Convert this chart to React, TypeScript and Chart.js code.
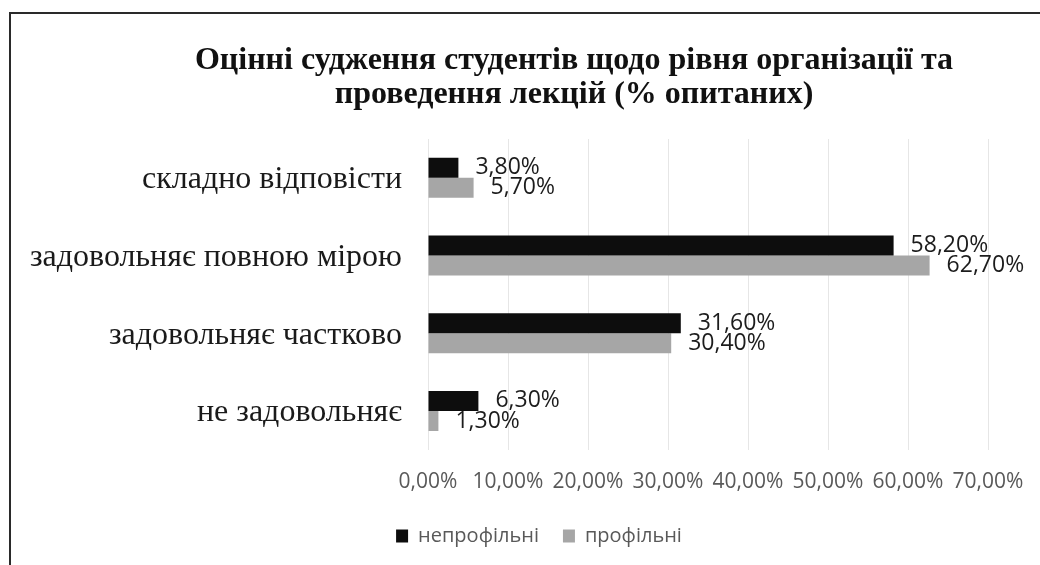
import React, { useEffect, useRef } from "react";
import { Chart, registerables } from "chart.js";

Chart.register(...registerables);

const categories = [
  "складно відповісти",
  "задовольняє повною мірою",
  "задовольняє частково",
  "не задовольняє",
];
const seriesNames = ["непрофільні", "профільні"];
const nonProfileValues = [3.8, 58.2, 31.6, 6.3];
const profileValues = [5.7, 62.7, 30.4, 1.3];
const titleLines = [
  "Оцінні судження студентів щодо рівня організації та",
  "проведення лекцій (% опитаних)",
];
const axisMin = 0;
const axisMax = 70;
const axisStep = 10;

const fmt = (v: number) => v.toFixed(2).replace(".", ",") + "%";

const titlePlugin = {
  id: "serifTitle",
  afterDraw(chart: any) {
    const ctx = chart.ctx;
    ctx.save();
    ctx.font = 'bold 32px "Liberation Serif"';
    ctx.fillStyle = "#111111";
    ctx.textAlign = "center";
    ctx.textBaseline = "alphabetic";
    ctx.fillText(titleLines[0], 574, 69);
    ctx.fillText(titleLines[1], 574, 103);
    ctx.restore();
  },
};

const legendShiftPlugin = {
  id: "legendShift",
  afterLayout(chart: any) {
    const lg = chart.legend;
    if (!lg) return;
    lg.left += 40;
    lg.right += 40;
    lg.top -= 13;
    lg.bottom -= 13;
  },
};

const valueLabelPlugin = {
  id: "valueLabels",
  afterDatasetsDraw(chart: any) {
    const ctx = chart.ctx;
    ctx.save();
    ctx.font = '23px "Open Sans"';
    ctx.fillStyle = "#1c1c1c";
    ctx.textAlign = "left";
    ctx.textBaseline = "middle";
    chart.data.datasets.forEach((ds: any, i: number) => {
      const meta = chart.getDatasetMeta(i);
      meta.data.forEach((bar: any, j: number) => {
        ctx.fillText(fmt(ds.data[j] as number), bar.x + 17, bar.y);
      });
    });
    ctx.restore();
  },
};

export default function App() {
  const canvasRef = useRef<HTMLCanvasElement | null>(null);

  useEffect(() => {
    if (!canvasRef.current) return;
    const chart = new Chart(canvasRef.current, {
      type: "bar",
      data: {
        labels: categories,
        datasets: [
          {
            label: seriesNames[0],
            data: nonProfileValues,
            backgroundColor: "#0d0d0d",
            barPercentage: 1,
            categoryPercentage: 0.515,
          },
          {
            label: seriesNames[1],
            data: profileValues,
            backgroundColor: "#a6a6a6",
            barPercentage: 1,
            categoryPercentage: 0.515,
          },
        ],
      },
      options: {
        indexAxis: "y",
        animation: false,
        responsive: true,
        maintainAspectRatio: false,
        layout: { padding: { left: 10, right: 52, top: 139, bottom: -4 } },
        scales: {
          x: {
            min: axisMin,
            max: axisMax,
            ticks: {
              stepSize: axisStep,
              callback: (v: any) => fmt(Number(v)),
              font: { family: "Open Sans", size: 21 },
              color: "#595959",
              padding: 20,
              maxRotation: 0,
            },
            grid: { color: "#e6e6e6", drawTicks: false },
            border: { display: false },
            afterFit: (scale: any) => {
              scale.paddingLeft = 0;
              scale.paddingRight = 0;
            },
          },
          y: {
            ticks: {
              font: { family: "Liberation Serif", size: 32 },
              color: "#1a1a1a",
              padding: 26,
              labelOffset: 2,
            },
            grid: { display: false, drawTicks: false },
            border: { display: false },
            afterFit: (scale: any) => {
              scale.width = 418;
            },
          },
        },
        plugins: {
          title: { display: false },
          tooltip: { enabled: false },
          legend: {
            position: "bottom",
            labels: {
              font: { family: "Open Sans", size: 20 },
              color: "#595959",
              boxWidth: 12,
              boxHeight: 13,
              padding: 24,
            },
          },
        },
      },
      plugins: [titlePlugin, valueLabelPlugin, legendShiftPlugin],
    });
    return () => chart.destroy();
  }, []);

  return (
    <div
      style={{
        position: "absolute",
        left: 0,
        top: 0,
        width: 1040,
        height: 565,
        overflow: "hidden",
        background: "#ffffff",
      }}
    >
      <div
        style={{
          position: "absolute",
          left: 9,
          top: 12,
          width: 1100,
          height: 620,
          borderLeft: "2px solid #2a2a2a",
          borderTop: "2px solid #2a2a2a",
          pointerEvents: "none",
        }}
      />
      <div style={{ position: "absolute", left: 0, top: 0, width: 1040, height: 565 }}>
        <canvas ref={canvasRef} />
      </div>
    </div>
  );
}
